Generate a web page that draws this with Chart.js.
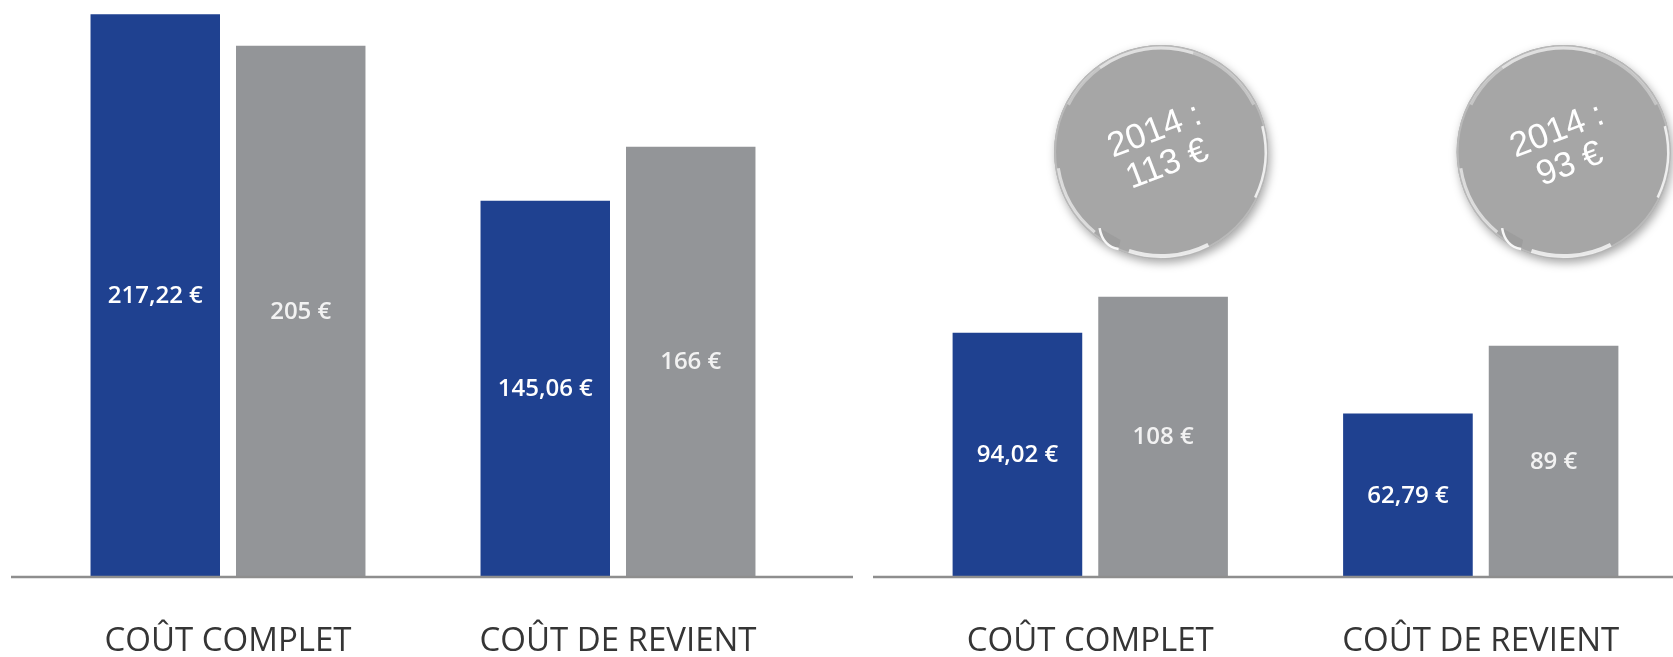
<!DOCTYPE html>
<html>
<head>
<meta charset="utf-8">
<script src="https://cdn.jsdelivr.net/npm/chart.js@4.4.0/dist/chart.umd.min.js"></script>
<style>
html, body { margin: 0; padding: 0; background: #fff; overflow: hidden; width: 1673px; height: 657px; }
#left { position: absolute; left: 0; top: 0; width: 860px; height: 657px; }
#right { position: absolute; left: 860px; top: 0; width: 830px; height: 657px; }
</style>
</head>
<body>
<div id="left"><canvas id="chart-left"></canvas></div>
<div id="right"><canvas id="chart-right"></canvas></div>
<script>
const categories = ['COÛT COMPLET', 'COÛT DE REVIENT'];
const leftBlue = [217.22, 145.06];
const leftGray = [205, 166];
const rightBlue = [94.02, 62.79];
const rightGray = [108, 89];
const rightPrevYear = [113, 93];   // bulles "2014 :"
const prevYearLabel = '2014 :';
const yMax = 220;

const BLUE = '#1f4190';
const GRAY = '#939598';

function euro(v) {
  let s = Number.isInteger(v) ? String(v) : v.toFixed(2).replace('.', ',');
  return s + ' €';
}

// white value labels in the middle of each bar
const valueLabels = {
  id: 'valueLabels',
  afterDatasetsDraw(chart) {
    const ctx = chart.ctx;
    ctx.save();
    ctx.font = '600 24px "Open Sans", sans-serif';
    ctx.textAlign = 'center';
    ctx.textBaseline = 'middle';
    chart.data.datasets.forEach((ds, i) => {
      chart.getDatasetMeta(i).data.forEach((bar, j) => {
        ctx.fillStyle = i === 0 ? '#ffffff' : '#f2f2f2';
        ctx.fillText(euro(ds.data[j]), bar.x, (bar.y + bar.base) / 2 + 1);
      });
    });
    ctx.restore();
  }
};

// long grey base line
const baseLine = {
  id: 'baseLine',
  afterDatasetsDraw(chart, args, opts) {
    const ctx = chart.ctx;
    const y = chart.scales.y.getPixelForValue(0) + 1;
    ctx.save();
    ctx.strokeStyle = '#8e8e8e';
    ctx.lineWidth = 2.5;
    ctx.beginPath();
    ctx.moveTo(opts.x1, y);
    ctx.lineTo(opts.x2 === 'end' ? chart.width : opts.x2, y);
    ctx.stroke();
    ctx.restore();
  }
};

function glossArc(ctx, x, y, r, a0, a1, w, alpha) {
  ctx.strokeStyle = 'rgba(255,255,255,' + alpha + ')';
  ctx.lineWidth = w;
  ctx.beginPath();
  ctx.arc(x, y, r, a0, a1);
  ctx.stroke();
}

function drawBubble(ctx, x, y, r, l1, l2) {
  ctx.save();
  ctx.shadowColor = 'rgba(0,0,0,0.35)';
  ctx.shadowBlur = 10;
  ctx.shadowOffsetX = 2;
  ctx.shadowOffsetY = 4;
  ctx.beginPath();
  ctx.arc(x, y, r, 0, Math.PI * 2);
  ctx.fillStyle = '#a6a6a6';
  ctx.fill();
  ctx.restore();

  ctx.save();
  ctx.lineWidth = 2;
  ctx.strokeStyle = '#b9b9b9';
  ctx.beginPath();
  ctx.arc(x, y, r - 1, 0, Math.PI * 2);
  ctx.stroke();
  // glossy highlights
  const P = Math.PI;
  glossArc(ctx, x, y, r - 3, P * 1.15, P * 1.85, 3, 0.35);
  glossArc(ctx, x, y, r - 3, P * 1.3, P * 1.6, 3, 0.45);
  glossArc(ctx, x, y, r - 2.5, -0.25, 0.45, 2.5, 0.8);
  glossArc(ctx, x, y, r - 3, P * 0.35, P * 0.6, 4, 0.75);
  glossArc(ctx, x, y, r - 3, P * 0.72, P * 0.95, 3, 0.6);
  // little curled tail bottom-left
  const a = P * 0.67;
  const tx = x + Math.cos(a) * r, ty = y + Math.sin(a) * r;
  ctx.fillStyle = '#9d9d9d';
  ctx.beginPath();
  ctx.moveTo(tx - 7, ty - 16);
  ctx.quadraticCurveTo(tx - 4, ty + 2, tx + 12, ty + 5);
  ctx.lineTo(tx + 14, ty - 4);
  ctx.closePath();
  ctx.fill();
  ctx.strokeStyle = 'rgba(255,255,255,0.9)';
  ctx.lineWidth = 2.5;
  ctx.beginPath();
  ctx.moveTo(tx - 7, ty - 16);
  ctx.quadraticCurveTo(tx - 4, ty + 2, tx + 12, ty + 5);
  ctx.stroke();

  ctx.translate(x, y - 4);
  ctx.rotate(-21 * Math.PI / 180);
  ctx.fillStyle = '#ffffff';
  ctx.font = '35px "Liberation Sans", Arial, sans-serif';
  ctx.textAlign = 'center';
  ctx.textBaseline = 'middle';
  ctx.fillText(l1, 0, -18);
  ctx.fillText(l2, 0, 18);
  ctx.restore();
}

const bubbles = {
  id: 'bubbles',
  afterDraw(chart, args, opts) {
    if (!opts.values) return;
    const meta = chart.getDatasetMeta(1);
    opts.values.forEach((v, i) => {
      const bar = meta.data[i];
      drawBubble(chart.ctx, bar.x + opts.dx[i], 152, 107, prevYearLabel, euro(v));
    });
  }
};

function makeConfig(blue, gray, pad, line, prev) {
  return {
    type: 'bar',
    data: {
      labels: categories,
      datasets: [
        { label: 'Réel', data: blue, backgroundColor: BLUE },
        { label: 'Référence', data: gray, backgroundColor: GRAY }
      ]
    },
    options: {
      responsive: true,
      maintainAspectRatio: false,
      animation: false,
      layout: { padding: { left: pad.left, right: pad.right, top: 7, bottom: 0 } },
      datasets: { bar: { categoryPercentage: 0.746, barPercentage: 0.89 } },
      scales: {
        y: { display: false, min: 0, max: yMax },
        x: {
          grid: { display: false, drawTicks: false },
          border: { display: false },
          ticks: {
            color: '#353535',
            font: { family: '"Open Sans", sans-serif', size: 33 },
            padding: 46,
            maxRotation: 0
          },
          afterFit(scale) { scale.height = 81; }
        }
      },
      plugins: {
        legend: { display: false },
        tooltip: { enabled: false },
        baseLine: line,
        bubbles: { values: prev, dx: [-2, 10] }
      }
    },
    plugins: [valueLabels, baseLine, bubbles]
  };
}

new Chart(document.getElementById('chart-left').getContext('2d'),
  makeConfig(leftBlue, leftGray, { left: 33, right: 47 }, { x1: 11, x2: 853 }, null));
new Chart(document.getElementById('chart-right').getContext('2d'),
  makeConfig(rightBlue, rightGray, { left: 35, right: 14 }, { x1: 13, x2: 'end' }, rightPrevYear));
</script>
</body>
</html>
